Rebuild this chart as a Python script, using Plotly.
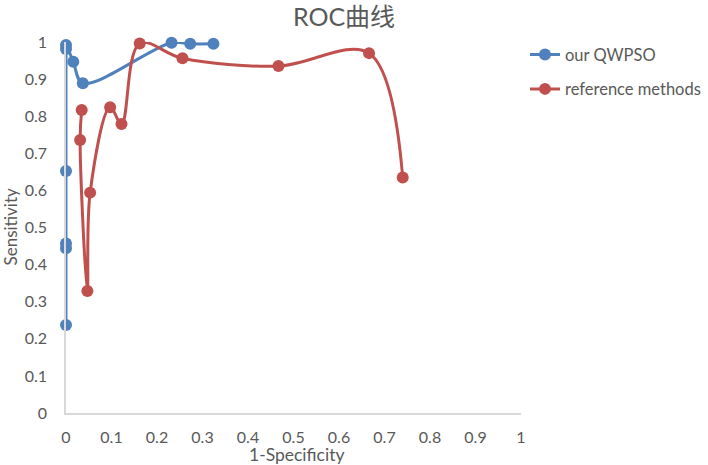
import plotly.graph_objects as go

# ROC points (1-specificity, sensitivity), in plotting order
qwpso_fpr = [0.0, 0.0, 0.0, 0.0, 0.0, 0.0, 0.016, 0.037, 0.232, 0.273, 0.324]
qwpso_tpr = [0.237, 0.444, 0.457, 0.652, 0.981, 0.992, 0.947, 0.889, 0.998, 0.995, 0.995]

ref_fpr = [0.0345, 0.031, 0.047, 0.053, 0.097, 0.122, 0.162, 0.256, 0.467, 0.666, 0.740]
ref_tpr = [0.817, 0.736, 0.329, 0.594, 0.824, 0.779, 0.996, 0.956, 0.935, 0.970, 0.635]

x_ticks = [0, 0.1, 0.2, 0.3, 0.4, 0.5, 0.6, 0.7, 0.8, 0.9, 1]
y_ticks = [0, 0.1, 0.2, 0.3, 0.4, 0.5, 0.6, 0.7, 0.8, 0.9, 1]

font_family = "Lato, 'Noto Sans CJK SC', sans-serif"
grey = '#595959'

fig = go.Figure()

fig.add_trace(go.Scatter(
    x=qwpso_fpr, y=qwpso_tpr, name='our QWPSO',
    mode='lines+markers', legendgroup='a',
    line=dict(color='#4F81BD', width=3, shape='spline', smoothing=1),
    marker=dict(color='#4F81BD', size=12),
    cliponaxis=False
))

fig.add_trace(go.Scatter(
    x=ref_fpr, y=ref_tpr, name='reference methods',
    mode='lines+markers', legendgroup='b',
    line=dict(color='#C0504D', width=3, shape='spline', smoothing=1),
    marker=dict(color='#C0504D', size=12),
    cliponaxis=False
))

fig.update_layout(
    width=708, height=465,
    margin=dict(l=66, r=187, t=42, b=52),
    plot_bgcolor='white', paper_bgcolor='white',
    font=dict(family=font_family, color=grey, size=16),
    title=dict(text='ROC曲线', x=0.611, xref='paper', xanchor='center',
               y=0.962, yref='container', yanchor='middle',
               font=dict(size=25, color=grey)),
    # container-referenced legend so it does not push the right margin
    legend=dict(x=0.7415, y=0.92, xref='container', yref='container',
                xanchor='left', yanchor='top',
                traceorder='grouped', tracegroupgap=10,
                font=dict(size=16.5, color=grey)),
    xaxis=dict(
        range=[0, 1], tickvals=x_ticks, ticktext=[str(v) for v in x_ticks],
        showgrid=False, zeroline=False, showline=True, automargin=False,
        linecolor='#D9D9D9', linewidth=1.5, ticks='', ticklabelstandoff=9,
    ),
    yaxis=dict(
        range=[0, 1], tickvals=y_ticks, ticktext=[str(v) for v in y_ticks],
        showgrid=False, zeroline=False, showline=True, automargin=False,
        linecolor='#D9D9D9', linewidth=1.5, ticks='', ticklabelstandoff=14,
    ),
    annotations=[
        dict(text='1-Specificity', xref='paper', yref='paper',
             x=0.5055, y=-41 / 371, xanchor='center', yanchor='middle',
             showarrow=False, font=dict(size=17.5, color=grey)),
        dict(text='Sensitivity', xref='paper', yref='paper',
             x=-56 / 455, y=0.5, xanchor='center', yanchor='middle',
             textangle=-90, showarrow=False, font=dict(size=17, color=grey)),
    ],
)

# drop the browser's default page margin so the figure sits at the window corner
fig.write_html("out.html", config={'displayModeBar': False},
               post_script="document.body.style.margin='0px';")
